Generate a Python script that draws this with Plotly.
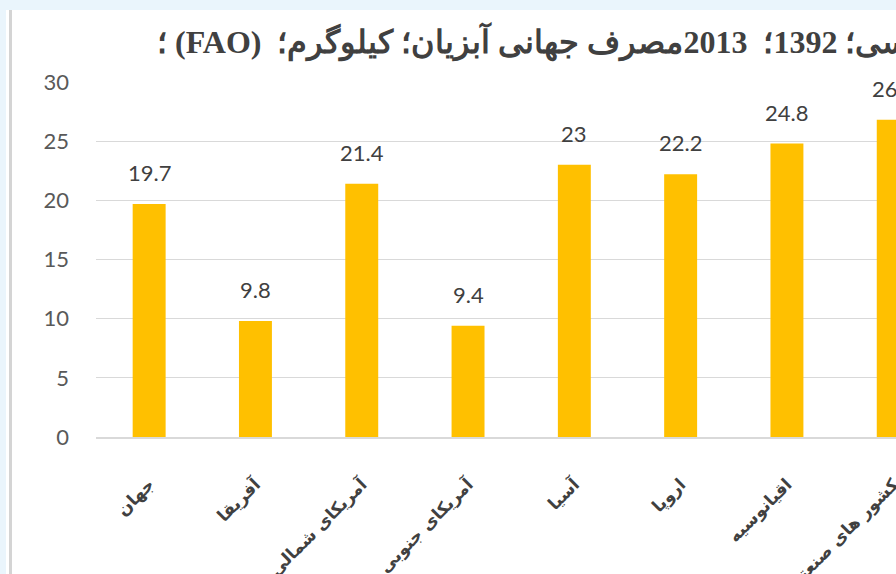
import plotly.graph_objects as go

# chart data
regions = ["جهان", "آفریقا", "آمریکای شمالی", "آمریکای جنوبی", "آسیا", "اروپا", "اقیانوسیه", "کشور های صنعتی"]
consumption = [19.7, 9.8, 21.4, 9.4, 23, 22.2, 24.8, 26.8]
y_ticks = [0, 5, 10, 15, 20, 25, 30]
title_text = "سال شمسی؛ 1392؛  2013مصرف جهانی آبزیان؛ کیلوگرم؛  (FAO) ؛"

W, H = 896, 574
L, R, T, B = 96, 0, 82, 137


def px_x(p):
    return (p - L) / (W - L - R)


def px_y(p):
    return (H - B - p) / (H - T - B)


fig = go.Figure()
fig.add_trace(go.Bar(
    x=regions,
    y=consumption,
    marker_color="#FFC000",
    marker_line_width=0,
    hoverinfo="x+y",
))

# data labels sitting well above the bars
for name, val in zip(regions, consumption):
    fig.add_annotation(
        x=name, y=val, text=f"{val:g}", showarrow=False,
        yanchor="bottom", yshift=16,
        font=dict(family="Lato", size=22, color="#404040"),
    )

# title (RTL text, cropped on the right in the original)
fig.add_annotation(
    xref="paper", yref="paper", x=px_x(155), y=px_y(42),
    xanchor="left", yanchor="middle", showarrow=False,
    text="\u202B" + title_text + "\u202C",
    font=dict(family="Liberation Serif", size=32, color="#404040", weight="bold"),
)

# page frame: light blue strips and the chart border
fig.add_shape(type="rect", xref="paper", yref="paper",
              x0=px_x(0), x1=px_x(W), y0=px_y(10), y1=px_y(0),
              fillcolor="#EAF5FC", line_width=0, layer="below")
fig.add_shape(type="rect", xref="paper", yref="paper",
              x0=px_x(0), x1=px_x(6), y0=px_y(H), y1=px_y(0),
              fillcolor="#EAF5FC", line_width=0, layer="below")
fig.add_shape(type="line", xref="paper", yref="paper",
              x0=px_x(10.5), x1=px_x(10.5), y0=px_y(H), y1=px_y(10),
              line=dict(color="#D4D4D4", width=3), layer="below")

fig.update_layout(
    width=W, height=H,
    margin=dict(l=L, r=R, t=T, b=B, pad=0, autoexpand=False),
    paper_bgcolor="white",
    plot_bgcolor="white",
    bargap=0.69,
    showlegend=False,
    xaxis=dict(
        range=[-0.5, 7.026],
        automargin=False,
        tickangle=-45,
        ticks="",
        ticklabelstandoff=29,
        tickfont=dict(family="DejaVu Sans", size=17, color="#404040", weight="bold"),
        showgrid=False,
        showline=True, linecolor="#D9D9D9", linewidth=1.5,
        zeroline=False,
    ),
    yaxis=dict(
        range=[0, 30],
        automargin=False,
        tickvals=y_ticks,
        ticks="",
        ticklabelstandoff=26,
        tickfont=dict(family="Lato", size=22, color="#595959"),
        showgrid=True, gridcolor="#D9D9D9", gridwidth=1.2,
        zeroline=False,
        showline=False,
    ),
)

# drop the browser's default page margin so the figure sits at the top-left corner
fig.write_html("out.html", config={"displayModeBar": False},
               post_script="document.body.style.margin='0';")
